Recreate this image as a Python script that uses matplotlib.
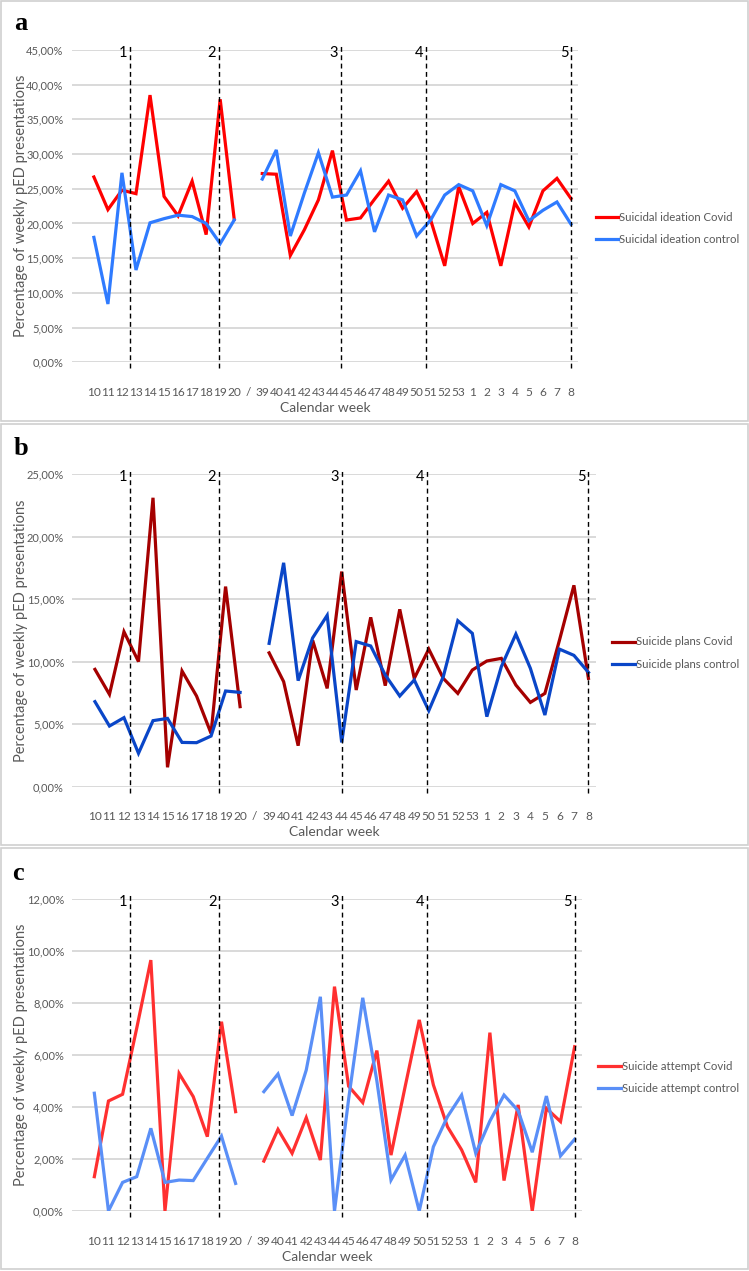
import matplotlib
matplotlib.use("Agg")
import matplotlib.pyplot as plt
import numpy as np
from matplotlib.patches import Rectangle

plt.rcParams['font.family'] = ['Lato', 'DejaVu Sans']

weeks = ['10', '11', '12', '13', '14', '15', '16', '17', '18', '19', '20', '/',
         '39', '40', '41', '42', '43', '44', '45', '46', '47', '48', '49', '50',
         '51', '52', '53', '1', '2', '3', '4', '5', '6', '7', '8']

nan = np.nan
ideation_covid = [26.7, 22.0, 24.8, 24.3, 38.5, 23.9, 21.1, 26.1, 18.4, 37.9, 20.6, nan,
                  27.2, 27.1, 15.4, 19.1, 23.4, 30.5, 20.5, 20.8, 23.5, 26.1, 22.2, 24.6,
                  20.5, 13.9, 25.3, 20.0, 21.6, 13.9, 23.0, 19.5, 24.7, 26.5, 23.6]
ideation_control = [18.0, 8.4, 27.3, 13.3, 20.1, 20.7, 21.2, 21.0, 20.0, 17.1, 20.5, nan,
                    26.4, 30.6, 18.2, 24.4, 30.2, 23.8, 24.1, 27.6, 18.8, 24.1, 23.4, 18.2,
                    20.5, 24.1, 25.6, 24.7, 19.7, 25.6, 24.7, 20.4, 21.9, 23.1, 19.9]

plans_covid = [9.38, 7.38, 12.39, 10.0, 23.1, 1.55, 9.25, 7.25, 4.26, 16.0, 6.4, nan,
               10.7, 8.4, 3.28, 11.7, 7.86, 17.2, 7.73, 13.54, 8.08, 14.18, 8.66, 11.0,
               8.66, 7.46, 9.33, 10.05, 10.26, 8.13, 6.74, 7.46, 11.7, 16.1, 8.66]
plans_control = [6.8, 4.85, 5.52, 2.67, 5.28, 5.46, 3.54, 3.52, 4.05, 7.65, 7.54, nan,
                 11.46, 17.9, 8.48, 11.9, 13.7, 3.54, 11.6, 11.25, 8.93, 7.25, 8.53, 6.08,
                 8.8, 13.27, 12.26, 5.6, 9.6, 12.2, 9.46, 5.73, 11.0, 10.5, 9.14]

attempt_covid = [1.32, 4.23, 4.49, 7.03, 9.65, 0.0, 5.29, 4.4, 2.86, 7.28, 3.82, nan,
                 1.92, 3.14, 2.22, 3.59, 1.96, 8.63, 4.8, 4.17, 6.17, 2.15, 4.78, 7.35,
                 4.85, 3.24, 2.35, 1.1, 6.86, 1.17, 4.08, 0.0, 3.95, 3.44, 6.32]
attempt_control = [4.53, 0.0, 1.1, 1.32, 3.18, 1.1, 1.19, 1.17, 2.03, 2.88, 1.06, nan,
                   4.59, 5.27, 3.67, 5.42, 8.24, 0.0, 4.3, 8.2, 5.0, 1.19, 2.15, 0.0,
                   2.47, 3.63, 4.46, 2.22, 3.46, 4.46, 3.86, 2.26, 4.42, 2.12, 2.76]

period_labels = ['1', '2', '3', '4', '5']

W, H = 749, 1271
fig = plt.figure(figsize=(W / 100, H / 100), dpi=100)
fig.patch.set_facecolor('white')

GRAY_TXT = '#595959'
GRID = '#d9d9d9'


def px_axes(left, right, top, bottom):
    return fig.add_axes([left / W, 1 - bottom / H, (right - left) / W, (bottom - top) / H])


panels = [
    dict(letter='a', box=(1, 1, 748, 421), ax=(72, 578, 50, 362.3),
         ymax=45, ystep=5, series=[(ideation_covid, '#ff0000', 'Suicidal ideation Covid'),
                                   (ideation_control, '#2f7bff', 'Suicidal ideation control')],
         vlines=[2.56, 8.9, 17.6, 23.67, 34.02], vtop=45.97, vbot=-0.82,
         legend=(595.7, 618.3, 217.3, 239.3), letter_xy=(14, 30), tick_y=395.7, xlabel_y=408.3),
    dict(letter='b', box=(1, 424, 748, 845), ax=(72.3, 595.7, 474, 786.7),
         ymax=25, ystep=5, series=[(plans_covid, '#a50000', 'Suicide plans Covid'),
                                   (plans_control, '#0a46c8', 'Suicide plans control')],
         vlines=[2.41, 8.54, 17.0, 22.85, 34.0], vtop=25.45, vbot=-0.48,
         legend=(612.3, 635, 641.7, 664), letter_xy=(14, 455), tick_y=819.3, xlabel_y=832.3),
    dict(letter='c', box=(1, 848, 748, 1269), ax=(72.3, 581.7, 899, 1211),
         ymax=12, ystep=2, series=[(attempt_covid, '#ff3030', 'Suicide attempt Covid'),
                                   (attempt_control, '#5a8ff7', 'Suicide attempt control')],
         vlines=[2.53, 8.85, 17.52, 23.54, 34.0], vtop=12.28, vbot=-0.22,
         legend=(598.3, 620.7, 1066, 1088.3), letter_xy=(12, 880), tick_y=1244, xlabel_y=1256.7),
]

x = np.arange(len(weeks))

for p in panels:
    bx0, by0, bx1, by1 = p['box']
    fig.patches.append(Rectangle((bx0 / W, 1 - by1 / H), (bx1 - bx0) / W, (by1 - by0) / H,
                                 transform=fig.transFigure, fill=False,
                                 edgecolor='#d0d0d0', linewidth=1.2))
    fig.text(p['letter_xy'][0] / W, 1 - p['letter_xy'][1] / H, p['letter'],
             family='Liberation Serif', fontweight='bold', fontsize=19,
             ha='left', va='baseline', color='black')

    l, r, t, b = p['ax']
    ax = px_axes(l, r, t, b)
    ax.set_xlim(-1.56, 34.5)
    ax.set_ylim(0, p['ymax'])
    yt = np.arange(0, p['ymax'] + 0.001, p['ystep'])
    ax.set_yticks(yt)
    ax.set_yticklabels([('%.2f' % v).replace('.', ',') + '%' for v in yt],
                       color=GRAY_TXT, fontsize=8)
    ax.yaxis.grid(True, color=GRID, linewidth=1.4)
    ax.set_axisbelow(True)
    ax.set_xticks(x)
    ax.set_xticklabels(weeks, color=GRAY_TXT, fontsize=8.6)
    pad_pts = (p['tick_y'] - b) * 72 / 100 - 6
    ax.tick_params(axis='x', length=0, pad=pad_pts)
    ax.tick_params(axis='y', length=0, pad=6)
    for s in ax.spines.values():
        s.set_visible(False)

    for vals, col, lab in p['series']:
        ax.plot(x, vals, color=col, linewidth=2.3, solid_joinstyle='miter', label=lab)

    for xv, lab in zip(p['vlines'], period_labels):
        ax.plot([xv, xv], [p['vbot'], p['vtop']], color='black', linewidth=1.0,
                linestyle=(0, (3.5, 2.5)), clip_on=False)
        ax.annotate(lab, xy=(xv, p['ymax']), xytext=(-2, -2.5), textcoords='offset points',
                    ha='right', va='center', fontsize=10.5, color='black')

    fig.text(((l + r) / 2) / W, 1 - p['xlabel_y'] / H, 'Calendar week', ha='center',
             va='center', color=GRAY_TXT, fontsize=10)
    fig.text(21 / W, 1 - ((t + b) / 2) / H, 'Percentage of weekly pED presentations',
             rotation=90, ha='center', va='center', color=GRAY_TXT, fontsize=10.5)

    lx0, lx1, ly0, ly1 = p['legend']
    for (vals, col, lab), ly in zip(p['series'], [ly0, ly1]):
        fig.add_artist(plt.Line2D([lx0 / W, lx1 / W], [1 - ly / H, 1 - ly / H],
                                  transform=fig.transFigure, color=col, linewidth=2.3))
        fig.text((lx1 + 1) / W, 1 - ly / H, lab, ha='left', va='center',
                 color=GRAY_TXT, fontsize=8.2)

fig.savefig('out.png', dpi=100, facecolor='white')
